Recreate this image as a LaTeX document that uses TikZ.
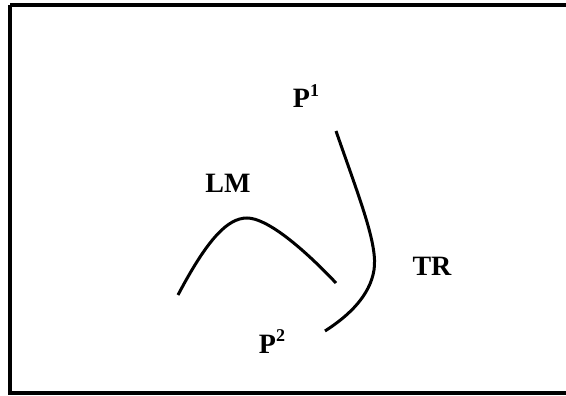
\documentclass[tikz,border=0pt]{standalone}
\usepackage{fontspec}
\setmainfont{Liberation Serif}
\usepackage{tikz}

\newcommand{\supnum}[1]{\raisebox{0.4em}{\fontsize{18}{18}\selectfont #1}}

\tikzset{
  lbl/.style={anchor=base,inner sep=0pt,font=\bfseries\fontsize{28}{28}\selectfont},
  trace/.style={line width=3pt}
}

\begin{document}
\begin{tikzpicture}[x=1pt,y=-1pt]
\useasboundingbox (0,0) rectangle (566,396);
\draw[line width=3.5pt] (10,5) -- (575,5) (10,5) -- (10,393) -- (575,393);

\node[lbl] (P1) at (306,108) {P\supnum{1}};
\node[lbl] (LM) at (228,193) {LM};
\node[lbl] (TR) at (432,275) {TR};
\node[lbl] (P2) at (272,353) {P\supnum{2}};

% the two curves
\draw[trace] (178,295) .. controls (208,238) and (228,218) .. (247,218)
  .. controls (266,218) and (300,245) .. (336,283);
\draw[trace] (336,131) .. controls (360,200) and (378,245) .. (374,270)
  .. controls (370,295) and (350,315) .. (325,331);
\end{tikzpicture}
\end{document}
